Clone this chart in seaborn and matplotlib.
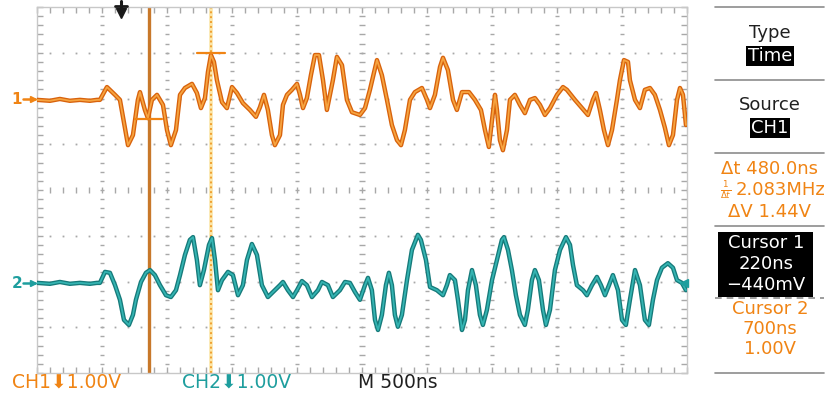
import numpy as np
import pandas as pd
import seaborn as sns
import matplotlib.pyplot as plt

# time in ns (trigger at 0), volts
ch1_t = [-638, -538, -462, -385, -308, -231, -177, -154, -100, -38, 0, 62, 100, 138, 154, 192, 215, 246,
         285, 331, 362, 392, 431, 462, 500, 554, 592, 623, 654, 677, 700, 723, 746, 785, 823, 862, 900,
         946, 1000, 1046, 1077, 1108, 1138, 1169, 1192, 1231, 1254, 1285, 1323, 1362, 1385, 1408, 1438,
         1469, 1500, 1531, 1562, 1592, 1638, 1669, 1708, 1746, 1785, 1846, 1885, 1923, 1977, 2015, 2054,
         2092, 2131, 2162, 2192, 2231, 2269, 2323, 2362, 2385, 2423, 2462, 2485, 2523, 2562, 2592, 2631,
         2685, 2731, 2777, 2808, 2838, 2862, 2885, 2900, 2923, 2946, 2977, 3000, 3038, 3077, 3115, 3154,
         3192, 3231, 3269, 3308, 3362, 3408, 3438, 3500, 3554, 3600, 3638, 3662, 3692, 3723, 3754, 3785,
         3823, 3846, 3877, 3908, 3923, 3962, 4000, 4038, 4077, 4115, 4154, 4192, 4223, 4254, 4285, 4308,
         4331, 4354]
ch1_v = [-0.03, -0.05, -0.01, -0.05, -0.03, -0.05, -0.03, -0.03, 0.25, 0.08, -0.03, -1.02, -0.80, -0.03,
         0.14, -0.25, -0.43, -0.03, 0.08, -0.14, -0.69, -1.02, -0.69, 0.08, 0.23, 0.32, 0.12, -0.21, 0.01,
         0.58, 0.95, 0.80, 0.40, -0.08, -0.21, 0.25, 0.12, -0.10, -0.25, -0.40, -0.19, 0.08, -0.25, -0.80,
         -1.02, -0.80, -0.14, 0.08, 0.19, 0.32, 0.08, -0.21, 0.01, 0.51, 0.95, 0.95, 0.40, -0.25, 0.40,
         0.91, 0.73, -0.03, -0.30, -0.36, -0.21, 0.19, 0.84, 0.51, -0.03, -0.58, -0.91, -1.02, -0.69, -0.03,
         0.14, 0.23, -0.03, -0.21, 0.08, 0.69, 0.89, 0.62, -0.03, -0.25, 0.14, 0.14, -0.03, -0.25, -0.69,
         -1.06, -0.47, 0.08, -0.25, -0.91, -1.13, -0.69, -0.03, 0.08, -0.14, -0.32, -0.03, 0.01, -0.14,
         -0.36, -0.21, 0.08, 0.25, 0.19, -0.03, -0.21, -0.36, -0.03, 0.12, -0.25, -0.69, -1.02, -0.69,
         -0.03, 0.40, 0.84, 0.80, 0.40, -0.03, -0.21, 0.19, 0.23, 0.08, -0.25, -0.64, -1.02, -0.80, -0.03,
         0.23, 0.08, -0.58]

ch2_t = [-638, -538, -462, -385, -308, -231, -177, -154, -115, -77, -38, 0, 31, 69, 100, 123, 162, 200,
         231, 269, 308, 354, 392, 431, 462, 500, 538, 562, 592, 615, 646, 685, 708, 731, 754, 785, 831,
         869, 908, 946, 977, 1015, 1054, 1092, 1138, 1192, 1231, 1254, 1292, 1331, 1362, 1400, 1438, 1477,
         1523, 1554, 1600, 1638, 1692, 1731, 1769, 1808, 1846, 1885, 1908, 1938, 1962, 1985, 2015, 2046,
         2069, 2092, 2115, 2138, 2169, 2208, 2246, 2292, 2315, 2354, 2385, 2438, 2485, 2515, 2538, 2577,
         2600, 2631, 2654, 2677, 2708, 2738, 2769, 2792, 2823, 2862, 2900, 2938, 2954, 2985, 3015, 3046,
         3077, 3115, 3138, 3169, 3192, 3223, 3254, 3277, 3308, 3346, 3385, 3431, 3462, 3485, 3515, 3562,
         3592, 3631, 3669, 3700, 3731, 3762, 3792, 3831, 3862, 3892, 3923, 3962, 4000, 4038, 4069, 4100,
         4131, 4169, 4215, 4254, 4285, 4323, 4354]
ch2_v = [-0.03, -0.05, -0.01, -0.05, -0.03, -0.05, -0.03, -0.03, 0.21, 0.19, -0.08, -0.40, -0.84, -0.95,
         -0.73, -0.40, -0.01, 0.19, 0.25, 0.14, -0.08, -0.30, -0.34, -0.19, 0.14, 0.58, 0.91, 0.97, 0.47,
         -0.08, 0.25, 0.80, 0.95, 0.47, -0.19, 0.03, 0.21, 0.14, -0.30, -0.08, 0.47, 0.82, 0.58, -0.08,
         -0.34, -0.19, -0.08, -0.01, -0.19, -0.34, -0.19, 0.01, -0.08, -0.34, -0.19, -0.01, -0.08, -0.34,
         -0.19, -0.01, -0.03, -0.23, -0.40, -0.08, 0.08, -0.19, -0.84, -1.06, -0.73, -0.08, 0.19, -0.08,
         -0.73, -0.99, -0.73, 0.03, 0.69, 1.02, 0.91, 0.47, -0.12, -0.19, -0.30, -0.08, 0.14, 0.03, -0.40,
         -1.06, -0.84, -0.19, 0.25, -0.08, -0.73, -0.95, -0.62, 0.03, 0.47, 0.91, 0.97, 0.69, 0.25, -0.30,
         -0.73, -0.95, -0.62, 0.03, 0.25, 0.03, -0.62, -0.95, -0.62, 0.25, 0.69, 0.97, 0.80, 0.36, -0.08,
         -0.19, -0.30, -0.08, 0.10, -0.08, -0.30, -0.08, 0.14, -0.19, -0.84, -0.95, -0.40, 0.25, -0.08,
         -0.84, -0.95, -0.40, 0.03, 0.30, 0.40, 0.30, 0.03, -0.03, -0.19]

ch_offsets = [2.0, -2.0]   # ground marker position in divisions
ns_per_div = 500
t_left = -638
cursor_t = [220, 700]
cursor_v = [-0.44, 1.00]

ORANGE, ORANGE_DK, ORANGE_LT = '#F08414', '#D8620C', '#F6A440'
TEAL, TEAL_DK, TEAL_LT = '#1E9E9E', '#167A7A', '#34B4B2'
GRID = '#A8A8A8'

sns.set_theme(style='white')
plt.rcParams['font.family'] = ['DejaVu Sans']

W, H = 833, 396
fig = plt.figure(figsize=(W / 100, H / 100), dpi=100)
fig.patch.set_facecolor('white')
ax = fig.add_axes([37 / W, 1 - 373 / H, 650 / W, 366 / H])
ax.set_xlim(t_left, t_left + 10 * ns_per_div)
ax.set_ylim(-4, 4)

# graticule
minor_t = t_left + 100 * np.arange(51)
minor_d = np.round(np.arange(-4, 4.01, 0.2), 2)
for k in range(1, 10):
  x = t_left + k * ns_per_div
  ms = 5 if k == 5 else 2.5
  ax.plot([x] * len(minor_d), minor_d, ls='none', marker='_', ms=ms, mew=1, color=GRID)
for j in range(-3, 4):
  if j == 0:
    ax.plot(minor_t, [j] * len(minor_t), ls='none', marker='|', ms=5, mew=1, color=GRID)
  else:
    ax.plot(minor_t, [j] * len(minor_t), ls='none', marker='s', ms=1.3, mew=0, color=GRID)
ax.set_xticks(minor_t)
ax.set_yticks(minor_d)
ax.tick_params(direction='in', length=4, width=1, color=GRID, top=True, right=True,
               bottom=True, left=True, labelbottom=False, labelleft=False)
for s in ax.spines.values():
  s.set_color('#C8C8C8')
  s.set_linewidth(1)

# cursors
ax.axvline(cursor_t[0], color='#C8782A', lw=2.4, zorder=1)
ax.axvline(cursor_t[1], color='#FBE6A8', lw=2.6, zorder=1)
ax.axvline(cursor_t[1], color='#F0A030', lw=1.4, ls=(0, (1, 1.5)), zorder=1)

# traces
for t, v, off, dk, lt in [(ch1_t, ch1_v, ch_offsets[0], ORANGE_DK, ORANGE_LT),
                          (ch2_t, ch2_v, ch_offsets[1], TEAL_DK, TEAL_LT)]:
  df = pd.DataFrame({'t': t, 'div': np.array(v) + off})
  sns.lineplot(data=df, x='t', y='div', ax=ax, color=dk, lw=3.2, estimator=None, zorder=3)
  sns.lineplot(data=df, x='t', y='div', ax=ax, color=lt, lw=1.3, estimator=None, zorder=4)
ax.set_xlabel('')
ax.set_ylabel('')

for ct, cv in zip(cursor_t, cursor_v):
  ax.plot([ct - 105, ct + 105], [cv + ch_offsets[0]] * 2, color=ORANGE, lw=1.6, zorder=5)

# overlay in pixel coordinates for annotations
ov = fig.add_axes([0, 0, 1, 1], facecolor='none')
ov.set_xlim(0, W)
ov.set_ylim(H, 0)
ov.axis('off')

# trigger marker
ov.plot([121, 121], [1, 11], color='k', lw=2.2)
ov.plot([115, 127], [6, 6], color='k', lw=2)
ov.plot(121, 13, marker='v', ms=7, color='k')

# channel ground markers
for label, y, c in [('1', 99, ORANGE), ('2', 283, TEAL)]:
  ov.text(17, y, label, color=c, fontsize=11, fontweight='bold', ha='center', va='center')
  ov.plot([23, 35], [y, y], color=c, lw=1.8)
  ov.plot(33, y, marker='>', ms=5, color=c)
ov.plot(684, 283, marker='<', ms=6, color=TEAL)

# bottom readouts
ov.text(12, 382, 'CH1\u2B071.00V', color=ORANGE, fontsize=13.5, ha='left', va='center')
ov.text(182, 382, 'CH2\u2B071.00V', color=TEAL, fontsize=13.5, ha='left', va='center')
ov.text(358, 382, 'M 500ns', color='#202020', fontsize=13.5, ha='left', va='center')

# side menu
cx = 770
fs = 13
for y in [7, 80, 153, 226, 373]:
  ov.plot([715, 824], [y, y], color='#8C8C8C', lw=1.2)
ov.plot([715, 824], [298, 298], color='#8C8C8C', lw=1.2, ls=(0, (4, 3)))
ov.text(cx, 33, 'Type', fontsize=fs, ha='center', va='center', color='#202020')
ov.text(cx, 56, 'Time', fontsize=fs, ha='center', va='center', color='white',
        bbox=dict(boxstyle='square,pad=0.08', fc='black', ec='none'))
ov.text(cx, 105, 'Source', fontsize=fs, ha='center', va='center', color='#202020')
ov.text(cx, 128, 'CH1', fontsize=fs, ha='center', va='center', color='white',
        bbox=dict(boxstyle='square,pad=0.08', fc='black', ec='none'))
ov.text(cx, 169, '\u0394t 480.0ns', fontsize=fs, ha='center', va='center', color=ORANGE)
ov.text(726, 190, r'$\frac{1}{\Delta t}$', fontsize=9, ha='center', va='center', color=ORANGE)
ov.text(781, 190, '2.083MHz', fontsize=fs, ha='center', va='center', color=ORANGE)
ov.text(cx, 212, '\u0394V 1.44V', fontsize=fs, ha='center', va='center', color=ORANGE)
ov.add_patch(plt.Rectangle((718, 232), 95, 65, fc='black', ec='none'))
for y, s in [(243, 'Cursor 1'), (264, '220ns'), (285, '\u2212440mV')]:
  ov.text(766, y, s, fontsize=fs, ha='center', va='center', color='white')
for y, s in [(309, 'Cursor 2'), (329, '700ns'), (349, '1.00V')]:
  ov.text(cx, y, s, fontsize=fs, ha='center', va='center', color=ORANGE)

fig.savefig('out.png', dpi=100)
